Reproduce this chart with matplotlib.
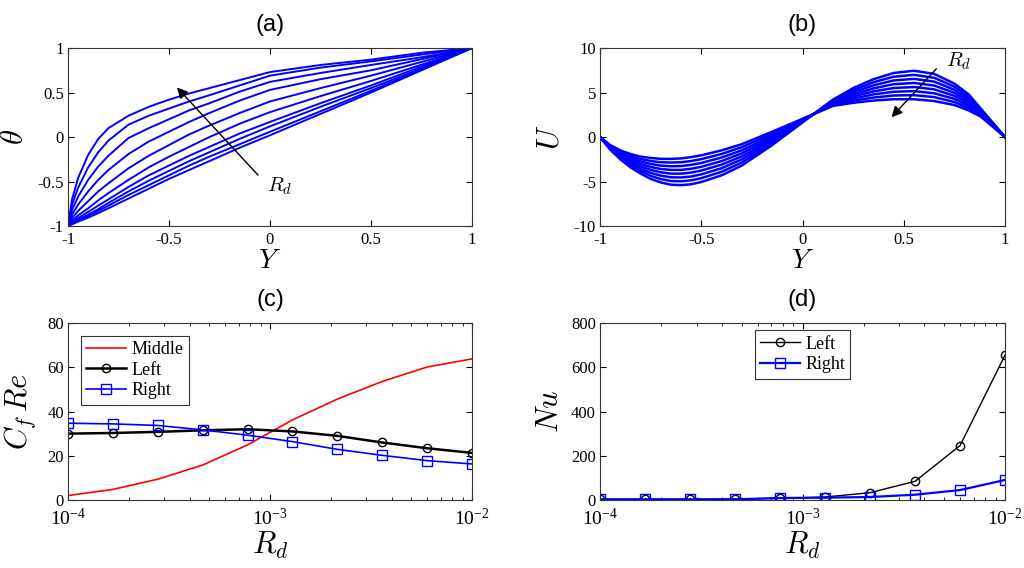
import numpy as np
import matplotlib.pyplot as plt
from matplotlib.ticker import LogLocator, NullFormatter

plt.rcParams['font.family'] = ['Liberation Serif', 'DejaVu Serif']
plt.rcParams['mathtext.fontset'] = 'cm'

# ---- (a) temperature profiles theta(Y), one row per Rd ----
y_theta = [-1, -0.98, -0.95, -0.9, -0.85, -0.8, -0.7, -0.6, -0.5, -0.4, -0.3, -0.15, 0, 0.25, 0.5, 0.76, 1]
theta_curves = [
    [-1, -0.70, -0.46, -0.20, -0.02, 0.10, 0.24, 0.34, 0.42, 0.49, 0.55, 0.64, 0.73, 0.81, 0.87, 0.95, 1],
    [-1, -0.76, -0.57, -0.34, -0.17, -0.04, 0.14, 0.24, 0.32, 0.40, 0.47, 0.58, 0.69, 0.78, 0.85, 0.93, 1],
    [-1, -0.82, -0.67, -0.48, -0.33, -0.21, -0.01, 0.10, 0.20, 0.30, 0.38, 0.51, 0.62, 0.72, 0.81, 0.90, 1],
    [-1, -0.87, -0.76, -0.61, -0.48, -0.37, -0.19, -0.05, 0.06, 0.17, 0.27, 0.41, 0.53, 0.65, 0.75, 0.88, 1],
    [-1, -0.91, -0.83, -0.72, -0.61, -0.52, -0.35, -0.21, -0.09, 0.03, 0.13, 0.27, 0.40, 0.55, 0.69, 0.85, 1],
    [-1, -0.94, -0.88, -0.80, -0.71, -0.63, -0.48, -0.34, -0.22, -0.11, 0.00, 0.15, 0.28, 0.46, 0.63, 0.82, 1],
    [-1, -0.96, -0.91, -0.84, -0.77, -0.70, -0.56, -0.43, -0.32, -0.21, -0.11, 0.04, 0.17, 0.38, 0.58, 0.80, 1],
    [-1, -0.97, -0.93, -0.87, -0.81, -0.74, -0.61, -0.49, -0.38, -0.27, -0.17, -0.02, 0.12, 0.34, 0.55, 0.78, 1],
    [-1, -0.975, -0.94, -0.89, -0.83, -0.77, -0.65, -0.54, -0.43, -0.32, -0.22, -0.08, 0.06, 0.29, 0.52, 0.77, 1],
    [-1, -0.98, -0.95, -0.905, -0.855, -0.80, -0.69, -0.58, -0.47, -0.37, -0.27, -0.12, 0.02, 0.26, 0.50, 0.76, 1],
]

# ---- (b) velocity profiles U(Y) ----
y_u = [-1, -0.95, -0.9, -0.85, -0.8, -0.75, -0.7, -0.65, -0.6, -0.55, -0.5, -0.4, -0.3, -0.15,
       0.15, 0.25, 0.35, 0.45, 0.55, 0.65, 0.75, 0.82, 0.88, 1]
u_curves = [
    [0, -1.40, -2.50, -3.40, -4.10, -4.70, -5.10, -5.35, -5.40, -5.30, -5.05, -4.30, -3.20, -0.90,
     4.20, 5.50, 6.50, 7.20, 7.45, 7.10, 6.00, 4.80, 3.20, 0],
    [0, -1.33, -2.36, -3.19, -3.83, -4.36, -4.72, -4.94, -4.97, -4.86, -4.62, -3.90, -2.86, -0.69,
     4.10, 5.26, 6.16, 6.78, 6.99, 6.66, 5.66, 4.54, 3.07, 0],
    [0, -1.26, -2.21, -2.97, -3.56, -4.03, -4.34, -4.52, -4.54, -4.43, -4.19, -3.50, -2.51, -0.47,
     4.00, 5.03, 5.81, 6.36, 6.54, 6.23, 5.31, 4.29, 2.94, 0],
    [0, -1.19, -2.07, -2.76, -3.29, -3.69, -3.96, -4.11, -4.11, -3.99, -3.76, -3.10, -2.17, -0.26,
     3.90, 4.79, 5.47, 5.94, 6.08, 5.79, 4.97, 4.03, 2.81, 0],
    [0, -1.11, -1.93, -2.54, -3.01, -3.36, -3.59, -3.69, -3.69, -3.56, -3.34, -2.70, -1.83, -0.04,
     3.80, 4.56, 5.13, 5.51, 5.62, 5.36, 4.63, 3.77, 2.69, 0],
    [0, -1.04, -1.79, -2.33, -2.74, -3.02, -3.21, -3.28, -3.26, -3.12, -2.91, -2.30, -1.49, 0.17,
     3.70, 4.32, 4.79, 5.09, 5.16, 4.92, 4.29, 3.51, 2.56, 0],
    [0, -0.97, -1.64, -2.11, -2.47, -2.69, -2.83, -2.86, -2.83, -2.69, -2.48, -1.90, -1.14, 0.39,
     3.60, 4.09, 4.44, 4.67, 4.71, 4.49, 3.94, 3.26, 2.43, 0],
    [0, -0.90, -1.50, -1.90, -2.20, -2.35, -2.45, -2.45, -2.40, -2.25, -2.05, -1.50, -0.80, 0.60,
     3.50, 3.85, 4.10, 4.25, 4.25, 4.05, 3.60, 3.00, 2.30, 0],
]

# ---- (c), (d) wall quantities versus Rd ----
rd = [1.0e-4, 1.668e-4, 2.783e-4, 4.642e-4, 7.743e-4, 1.292e-3, 2.154e-3, 3.594e-3, 5.995e-3, 1.0e-2]
cf_middle = [2.0, 4.8, 9.4, 15.8, 24.9, 36.2, 45.6, 53.6, 60.1, 63.8]
cf_left = [30.0, 30.3, 30.8, 31.5, 32.0, 31.0, 29.0, 26.0, 23.4, 21.3]
cf_right = [34.7, 34.4, 33.7, 31.7, 29.3, 26.4, 22.9, 20.2, 17.8, 16.3]
nu_left = [3, 3, 3, 4.5, 7.5, 13.6, 33, 84.5, 246, 655]
nu_right = [3, 3, 3, 3, 9, 10.6, 13.6, 24, 45, 90.6]

fig = plt.figure(figsize=(10.24, 5.68), dpi=100)
ax_a = fig.add_axes([0.0664, 0.602, 0.3945, 0.3134])
ax_b = fig.add_axes([0.586, 0.602, 0.3955, 0.3134])
ax_c = fig.add_axes([0.0664, 0.1197, 0.3945, 0.3116])
ax_d = fig.add_axes([0.586, 0.1197, 0.3955, 0.3116])

title_font = dict(family='Liberation Sans', fontsize=17)


def style(ax, xpad=4):
    ax.tick_params(direction='in', which='both', top=True, right=True, labelsize=12,
                   length=4)
    ax.tick_params(axis='x', pad=xpad)
    ax.tick_params(axis='y', pad=3)
    ax.tick_params(which='minor', length=2.5)
    for s in ax.spines.values():
        s.set_linewidth(0.8)
        s.set_color('#333333')


# (a)
for th in theta_curves:
    ax_a.plot(y_theta, th, color='blue', lw=1.4)
ax_a.set_xlim(-1, 1)
ax_a.set_ylim(-1, 1)
ax_a.set_xticks([-1, -0.5, 0, 0.5, 1])
ax_a.set_xticklabels(['-1', '-0.5', '0', '0.5', '1'])
ax_a.set_yticks([-1, -0.5, 0, 0.5, 1])
ax_a.set_yticklabels(['-1', '-0.5', '0', '0.5', '1'])
ax_a.annotate('', xy=(-0.47, 0.58), xytext=(-0.05, -0.45),
              arrowprops=dict(arrowstyle='-|>', color='black', lw=1.0, mutation_scale=16))
ax_a.text(0.05, -0.55, r'$R_d$', fontsize=15, ha='center', va='center')
ax_a.set_title('(a)', pad=12, **title_font)
ax_a.set_xlabel(r'$Y$', fontsize=20)
ax_a.xaxis.set_label_coords(0.5, -0.13)
ax_a.set_ylabel(r'$\theta$', fontsize=22)
ax_a.yaxis.set_label_coords(-0.094, 0.5)
style(ax_a)

# (b)
for u in u_curves:
    ax_b.plot(y_u, u, color='blue', lw=1.8)
ax_b.set_xlim(-1, 1)
ax_b.set_ylim(-10, 10)
ax_b.set_xticks([-1, -0.5, 0, 0.5, 1])
ax_b.set_xticklabels(['-1', '-0.5', '0', '0.5', '1'])
ax_b.set_yticks([-10, -5, 0, 5, 10])
ax_b.set_yticklabels(['-10', '-5', '0', '5', '10'])
ax_b.annotate('', xy=(0.43, 2.0), xytext=(0.67, 7.9),
              arrowprops=dict(arrowstyle='-|>', color='black', lw=1.0, mutation_scale=16))
ax_b.text(0.77, 8.5, r'$R_d$', fontsize=15, ha='center', va='center')
ax_b.set_title('(b)', pad=12, **title_font)
ax_b.set_xlabel(r'$Y$', fontsize=20)
ax_b.xaxis.set_label_coords(0.5, -0.13)
ax_b.set_ylabel(r'$U$', fontsize=22)
ax_b.yaxis.set_label_coords(-0.086, 0.5)
style(ax_b)

# (c)
ax_c.semilogx(rd, cf_middle, color='red', lw=1.2, label='Middle')
ax_c.semilogx(rd, cf_left, color='black', lw=1.8, marker='o', ms=6, mfc='none', mew=1.0, label='Left')
ax_c.semilogx(rd, cf_right, color='blue', lw=1.2, marker='s', ms=7, mfc='none', mew=1.0, label='Right')
ax_c.set_xlim(1e-4, 1e-2)
ax_c.set_ylim(0, 80)
ax_c.set_yticks([0, 20, 40, 60, 80])
ax_c.xaxis.set_minor_locator(LogLocator(base=10, subs=np.arange(2, 10)))
ax_c.xaxis.set_minor_formatter(NullFormatter())
leg = ax_c.legend(loc='upper left', fontsize=13, fancybox=False, edgecolor='black',
                  handlelength=2.2, handletextpad=0.3, borderpad=0.3, labelspacing=0.2,
                  borderaxespad=0.7)
leg.get_frame().set_linewidth(0.8)
ax_c.set_title('(c)', pad=12, **title_font)
ax_c.set_xlabel(r'$R_d$', fontsize=22)
ax_c.xaxis.set_label_coords(0.5, -0.17)
ax_c.set_ylabel(r'$C_f\,Re$', fontsize=22)
ax_c.yaxis.set_label_coords(-0.074, 0.5)
style(ax_c, xpad=6)
ax_c.tick_params(axis='x', labelsize=14)

# (d)
ax_d.semilogx(rd, nu_left, color='black', lw=1.0, marker='o', ms=6, mfc='none', mew=1.0, label='Left')
ax_d.semilogx(rd, nu_right, color='blue', lw=1.6, marker='s', ms=7, mfc='none', mew=1.0, label='Right')
ax_d.set_xlim(1e-4, 1e-2)
ax_d.set_ylim(0, 800)
ax_d.set_yticks([0, 200, 400, 600, 800])
ax_d.xaxis.set_minor_locator(LogLocator(base=10, subs=np.arange(2, 10)))
ax_d.xaxis.set_minor_formatter(NullFormatter())
leg = ax_d.legend(loc='upper center', fontsize=13, fancybox=False, edgecolor='black',
                  handlelength=2.2, handletextpad=0.3, borderpad=0.3, labelspacing=0.2,
                  borderaxespad=0.4)
leg.get_frame().set_linewidth(0.8)
ax_d.set_title('(d)', pad=12, **title_font)
ax_d.set_xlabel(r'$R_d$', fontsize=22)
ax_d.xaxis.set_label_coords(0.5, -0.17)
ax_d.set_ylabel(r'$Nu$', fontsize=22)
ax_d.yaxis.set_label_coords(-0.086, 0.5)
style(ax_d, xpad=6)
ax_d.tick_params(axis='x', labelsize=14)

fig.savefig('out.png', dpi=100)
